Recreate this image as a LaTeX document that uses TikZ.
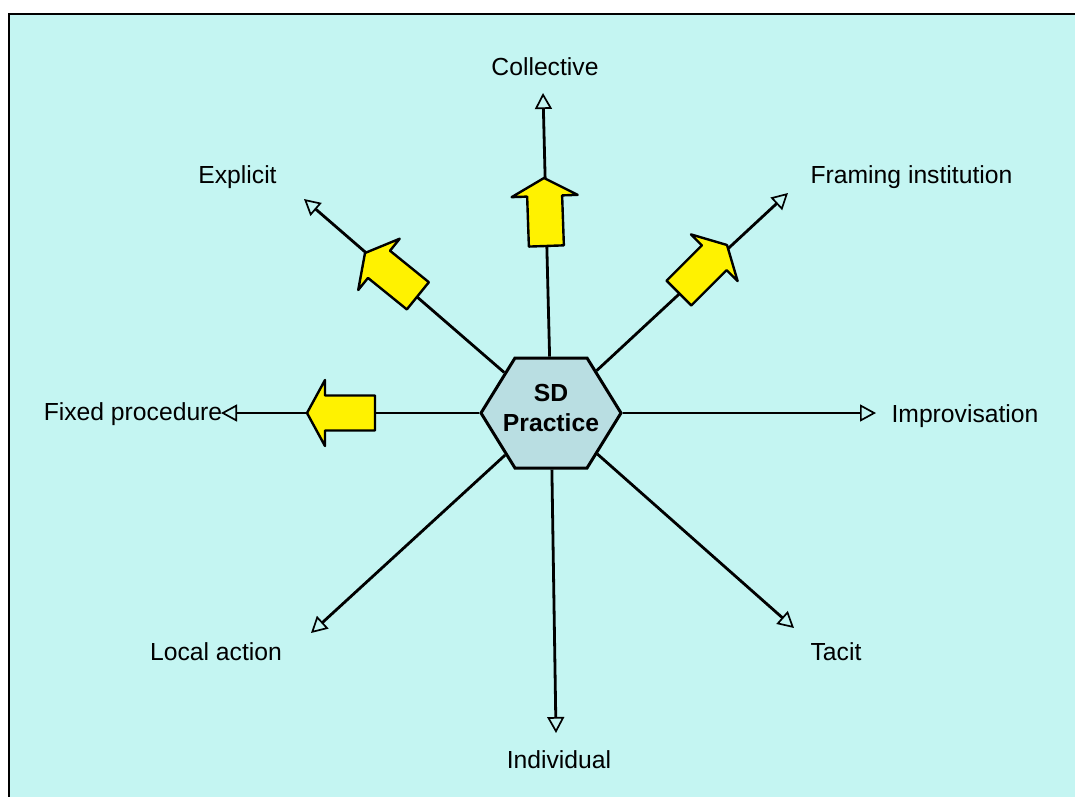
\documentclass[tikz,border=0pt]{standalone}
\usepackage{fontspec}
\setmainfont{Liberation Sans}
\usetikzlibrary{arrows.meta,shapes.symbols}

\definecolor{panelcyan}{RGB}{196,245,242}
\definecolor{hexblue}{RGB}{185,222,226}

\begin{document}
\begin{tikzpicture}
  [x=1pt,y=-1pt,
   axis/.style={draw=black,line width=2.8pt,-{Triangle[open,length=16pt,width=17pt,line width=1.7pt]}},
   pole/.style={font=\fontsize{24.7}{30}\selectfont,anchor=base,inner sep=0pt},
   fatarrow/.style={draw=black,fill=yellow,line width=2.4pt,line join=round}]
  \useasboundingbox (0,0) rectangle (1075,796);
  \draw[fill=panelcyan,line width=2pt] (8.5,13.5) rectangle (1090,810);

  \node[signal,signal to=west and east,signal pointer angle=116.6,draw=black,line width=3pt,
        fill=hexblue,minimum width=140pt,minimum height=110pt,inner sep=0pt] (sd) at (551,413) {};
  \node[align=center,inner sep=0pt,font=\bfseries\fontsize{24.7}{30}\selectfont] (sdtext) at (551,408) {SD\\Practice};

  % arrow ends
  \coordinate (collectiveend) at (543,93);
  \coordinate (individualend) at (556,733);
  \coordinate (fixedend) at (221,413);
  \coordinate (improvend) at (876,413);
  \coordinate (explicitend) at (304,199);
  \coordinate (framingend) at (788,193);
  \coordinate (localend) at (311,633);
  \coordinate (tacitend) at (794,628);

  \foreach \to in {collectiveend,individualend,fixedend,improvend,explicitend,framingend,localend,tacitend}
    \draw[axis] (sd) -- (\to);

  % yellow arrows
  \coordinate (fatup) at (544,178);
  \coordinate (fatleft) at (307,413);
  \coordinate (fatexplicit) at (365,253);
  \coordinate (fatframing) at (727,245);

  \foreach \tip/\ang in {fatup/92,fatleft/180,fatexplicit/141,fatframing/45}
    \draw[fatarrow,shift={(\tip)},rotate=\ang]
      (0,0) -- (-18,33) -- (-18,17.5) -- (-68,17.5) -- (-68,-17.5) -- (-18,-17.5) -- (-18,-33) -- cycle;

  \node[pole] (collective) at (545,75) {Collective};
  \node[pole] (explicit) at (237.5,183) {Explicit};
  \node[pole] (framing) at (911.5,183) {Framing institution};
  \node[pole] (fixed) at (133,420) {Fixed procedure};
  \node[pole] (improv) at (965,422) {Improvisation};
  \node[pole] (local) at (216,660) {Local action};
  \node[pole] (tacit) at (836,660) {Tacit};
  \node[pole] (individual) at (559,768) {Individual};

\end{tikzpicture}
\end{document}
